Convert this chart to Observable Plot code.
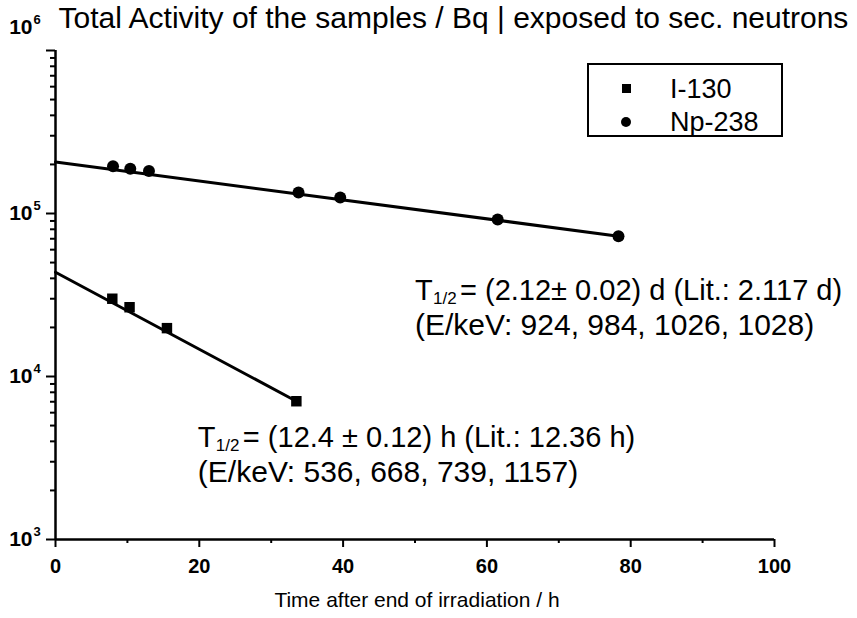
<!DOCTYPE html>
<html><head><meta charset="utf-8">
<script src="https://cdn.jsdelivr.net/npm/d3@7"></script>
<script src="https://cdn.jsdelivr.net/npm/@observablehq/plot@0.6"></script>
<style>
body{margin:0;background:#fff;}
#wrap{position:relative;width:857px;height:618px;font-family:"Liberation Sans",Arial,sans-serif;color:#000;}
#wrap svg{position:absolute;left:0;top:0;}
#legend{position:absolute;left:587px;top:63px;width:196px;height:74px;border:2.5px solid #000;box-sizing:border-box;background:#fff;}
.lg{position:absolute;left:81px;font-size:27px;line-height:30px;}
.sym{position:absolute;background:#000;}
</style></head><body><div id="wrap"></div>
<script>
// Data
const timeI = [7.9, 10.3, 15.5, 33.5];
const actI = [30000, 26600, 19800, 7050];
const timeNp = [8.0, 10.4, 13.0, 33.8, 39.6, 61.5, 78.3];
const actNp = [195000, 188000, 182000, 134500, 125400, 91900, 72600];
// fitted lines (end points as drawn)
const fitTimeI = [0, 33.5];
const fitActI = [43600, 7050];
const fitTimeNp = [0, 78.3];
const fitActNp = [207000, 72600];
// ticks
const xTicks = [0, 20, 40, 60, 80, 100];
const xMinor = [10, 30, 50, 70, 90];
const yMajor = [1e3, 1e4, 1e5, 1e6];
const yExp = ["3", "4", "5", "6"];
const yMinorMult = [2, 3, 4, 5, 6, 7, 8, 9];
const yDecades = [1e3, 1e4, 1e5];
const series = ["I-130", "Np-238"];
const titleText = "Total Activity of the samples / Bq | exposed to sec. neutrons";
const xLabel = "Time after end of irradiation / h";
const annos = [
  {t: 50.0, a: 33700, main: "= (2.12\u00b1 0.02) d (Lit.: 2.117 d)", sub: "(E/keV: 924, 984, 1026, 1028)", a2: 20600},
  {t: 19.8, a: 4230, main: "= (12.4 \u00b1 0.12) h (Lit.: 12.36 h)", sub: "(E/keV: 536, 668, 739, 1157)", a2: 2580}
];

const ptsI = timeI.map((t, i) => ({t, a: actI[i]}));
const ptsNp = timeNp.map((t, i) => ({t, a: actNp[i]}));
const lineI = fitTimeI.map((t, i) => ({t, a: fitActI[i]}));
const lineNp = fitTimeNp.map((t, i) => ({t, a: fitActNp[i]}));
const yMinor = yDecades.flatMap(d => yMinorMult.map(m => m * d));
const font = "Liberation Sans, Arial, sans-serif";
const blank = () => "";

const plot = Plot.plot({
  width: 857, height: 618,
  marginLeft: 55, marginRight: 83, marginTop: 50, marginBottom: 79,
  style: {fontFamily: font, background: "#fff", color: "#000", overflow: "visible"},
  x: {domain: [0, 100], axis: null},
  y: {type: "log", domain: [1e3, 1e6], axis: null},
  marks: [
    Plot.ruleX([0], {y1: 1e3, y2: 1e6, stroke: "#000", strokeWidth: 2.5}),
    Plot.ruleY([1e3], {x1: 0, x2: 100, stroke: "#000", strokeWidth: 2.5}),
    Plot.axisY({ticks: yMajor, tickSize: 9, strokeWidth: 2, anchor: "left", tickFormat: blank, label: null}),
    Plot.axisY({ticks: yMinor, tickSize: 5, strokeWidth: 2, anchor: "left", tickFormat: blank, label: null}),
    Plot.axisX({ticks: xTicks, tickSize: 8, strokeWidth: 2, anchor: "bottom", tickFormat: blank, label: null}),
    Plot.axisX({ticks: xMinor, tickSize: 4, strokeWidth: 2, anchor: "bottom", tickFormat: blank, label: null}),
    Plot.text(xTicks, {x: d => d, y: 1e3, dy: 27, text: d => String(d), fontSize: 20, fontWeight: "bold"}),
    Plot.text(yMajor.slice(0, 3), {x: 0, y: d => d, text: () => "10", textAnchor: "end", dx: -23, fontSize: 21, fontWeight: "bold"}),
    Plot.text(yMajor.slice(0, 3), {x: 0, y: d => d, text: (d, i) => yExp[i], textAnchor: "start", dx: -22, dy: -8, fontSize: 13, fontWeight: "bold"}),
    Plot.text(yMajor.slice(3), {x: 0, y: d => d, text: () => "10", textAnchor: "end", dx: -23, dy: -23, fontSize: 21, fontWeight: "bold"}),
    Plot.text(yMajor.slice(3), {x: 0, y: d => d, text: () => yExp[3], textAnchor: "start", dx: -22, dy: -31, fontSize: 13, fontWeight: "bold"}),
    Plot.line(lineNp, {x: "t", y: "a", stroke: "#000", strokeWidth: 3}),
    Plot.line(lineI, {x: "t", y: "a", stroke: "#000", strokeWidth: 3}),
    Plot.dot(ptsNp, {x: "t", y: "a", r: 6, fill: "#000", symbol: "circle"}),
    Plot.dot(ptsI, {x: "t", y: "a", r: 5.9, fill: "#000", symbol: "square"}),
    // annotations
    Plot.text(annos, {x: "t", y: "a", text: () => "T", textAnchor: "start", fontSize: 29}),
    Plot.text(annos, {x: "t", y: "a", text: () => "1/2", textAnchor: "start", dx: 18, dy: 8, fontSize: 17}),
    Plot.text(annos, {x: "t", y: "a", text: "main", textAnchor: "start", dx: 45, fontSize: 29}),
    Plot.text(annos, {x: "t", y: "a2", text: "sub", textAnchor: "start", fontSize: 30}),
    Plot.text([xLabel], {frameAnchor: "bottom", lineAnchor: "middle", dy: 61, dx: 2, fontSize: 21}),
    Plot.text([titleText], {frameAnchor: "top-left", lineAnchor: "middle", textAnchor: "start", dx: 3, dy: -32, fontSize: 30})
  ]
});
const wrap = document.getElementById("wrap");
wrap.appendChild(plot);
const lg = document.createElement("div");
lg.id = "legend";
lg.innerHTML =
  '<div class="sym" style="left:33px;top:19px;width:9px;height:9px;"></div>' +
  '<div class="lg" style="top:9px;">' + series[0] + '</div>' +
  '<div class="sym" style="left:32px;top:52px;width:10px;height:10px;border-radius:50%;"></div>' +
  '<div class="lg" style="top:42px;">' + series[1] + '</div>';
wrap.appendChild(lg);
</script></body></html>
